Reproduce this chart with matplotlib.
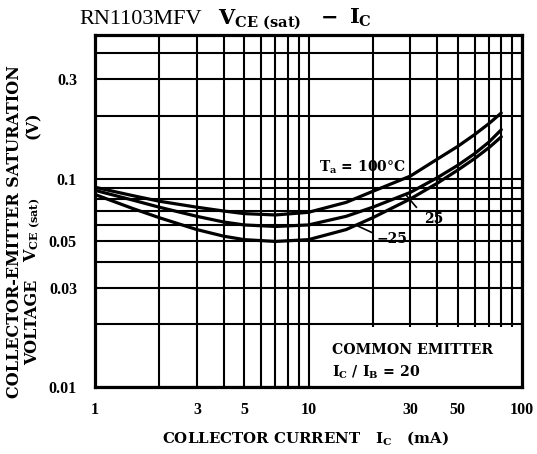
import matplotlib
matplotlib.use("Agg")
import matplotlib.pyplot as plt
from matplotlib.patches import Rectangle

plt.rcParams['mathtext.fontset'] = 'custom'
plt.rcParams['mathtext.rm'] = 'DejaVu Serif:bold'
plt.rcParams['mathtext.bf'] = 'DejaVu Serif:bold'
plt.rcParams['mathtext.it'] = 'DejaVu Serif:bold'

# Data
ic_ma = [1, 1.5, 2, 3, 4, 5, 7, 10, 15, 20, 30, 40, 50, 60, 70, 80]
vce_100 = [0.091, 0.083, 0.078, 0.073, 0.070, 0.068, 0.067, 0.069, 0.077, 0.087,
           0.103, 0.124, 0.143, 0.163, 0.184, 0.207]
vce_25 = [0.088, 0.079, 0.073, 0.066, 0.062, 0.060, 0.059, 0.060, 0.066, 0.073,
          0.086, 0.101, 0.116, 0.132, 0.150, 0.172]
vce_m25 = [0.084, 0.072, 0.065, 0.057, 0.053, 0.051, 0.050, 0.051, 0.057, 0.065,
           0.080, 0.095, 0.110, 0.125, 0.141, 0.159]

x_ticks = [1, 3, 5, 10, 30, 50, 100]
x_tick_labels = ['1', '3', '5', '10', '30', '50', '100']
y_ticks = [0.01, 0.03, 0.05, 0.1, 0.3]
y_tick_labels = ['0.01', '0.03', '0.05', '0.1', '0.3']

W, H = 537, 454
fig = plt.figure(figsize=(W / 100, H / 100), dpi=100)
L, R, T, B = 95, 522, 35, 387
ax = fig.add_axes([L / W, 1 - B / H, (R - L) / W, (B - T) / H])
ax.set_xscale('log')
ax.set_yscale('log')
ax.set_xlim(1, 100)
ax.set_ylim(0.01, 0.49)

# grid
gx = [i * 10 ** d for d in range(0, 2) for i in range(1, 10)] + [100]
gy = [i * 10 ** d for d in (-2, -1) for i in range(1, 10)]
for v in gx:
    ax.axvline(v, color='black', lw=1.5, zorder=1)
for v in gy:
    if v < 0.49:
        ax.axhline(v, color='black', lw=1.5, zorder=1)

# white box for the note
ax.add_patch(Rectangle((10.4, 0.0101), 96, 0.0195 - 0.0101, facecolor='white',
                       edgecolor='none', zorder=2))

for ys in (vce_100, vce_25, vce_m25):
    ax.plot(ic_ma, ys, color='black', lw=2.3, zorder=3, solid_capstyle='round')

ax.set_xticks(x_ticks)
ax.set_xticklabels(x_tick_labels)
ax.set_yticks(y_ticks)
ax.set_yticklabels(y_tick_labels)
ax.xaxis.set_minor_locator(matplotlib.ticker.NullLocator())
ax.yaxis.set_minor_locator(matplotlib.ticker.NullLocator())
ax.tick_params(length=0)
for lab in ax.get_xticklabels() + ax.get_yticklabels():
    lab.set_fontfamily('Liberation Serif')
    lab.set_fontweight('bold')
    lab.set_fontsize(11.5)
ax.tick_params(axis='y', pad=13)
ax.tick_params(axis='x', pad=11)
for s in ax.spines.values():
    s.set_linewidth(2.3)
    s.set_zorder(4)

fs = dict(fontfamily='DejaVu Serif', fontweight='bold', color='black')
ax.text(17.8, 0.113, r'T$_{\mathrm{a}}$ = 100°C', ha='center', va='center', fontsize=10, zorder=5, **fs)
ax.text(38.5, 0.0644, '25', ha='center', va='center', fontsize=10, zorder=5, **fs)
ax.text(24.5, 0.0511, '−25', ha='center', va='center', fontsize=10, zorder=5, **fs)
ax.plot([28.5, 32], [0.084, 0.073], color='black', lw=1.2, zorder=3)
ax.plot([16.9, 19.8], [0.0595, 0.0552], color='black', lw=1.2, zorder=3)
ax.text(12.9, 0.0150, 'COMMON EMITTER', ha='left', va='center', fontsize=10.2, zorder=5, **fs)
ax.text(12.9, 0.0118, r'I$_{\mathrm{C}}$ / I$_{\mathrm{B}}$ = 20', ha='left', va='center', fontsize=10.2, zorder=5, **fs)

# title
fig.text(79 / W, 1 - 24 / H, 'RN1103MFV', fontfamily='Liberation Serif', fontsize=16,
         ha='left', va='baseline')
fig.text(218 / W, 1 - 24 / H, r'V$_{\mathrm{CE\ (sat)}}$',
         ha='left', va='baseline', fontsize=15, **fs)
fig.text(321 / W, 1 - 24 / H, '−', ha='left', va='baseline', fontsize=15, **fs)
fig.text(349 / W, 1 - 24 / H, r'I$_{\mathrm{C}}$',
         ha='left', va='baseline', fontsize=15, **fs)

# axis labels
fig.text(306 / W, 1 - 438 / H, r'COLLECTOR CURRENT   I$_{\mathrm{C}}$   (mA)',
         ha='center', va='center', fontsize=10.8, **fs)
fig.text(15 / W, 1 - 232 / H, 'COLLECTOR-EMITTER SATURATION', rotation=90,
         ha='center', va='center', fontsize=11.5, **fs)
fig.text(33 / W, 1 - 322 / H, 'VOLTAGE', rotation=90,
         ha='center', va='center', fontsize=11.5, **fs)
fig.text(33 / W, 1 - 230 / H, r'V$_{\mathrm{CE\ (sat)}}$', rotation=90,
         ha='center', va='center', fontsize=11.5, **fs)
fig.text(33 / W, 1 - 125 / H, '(V)', rotation=90,
         ha='center', va='center', fontsize=11.5, **fs)

fig.savefig('out.png', dpi=100, facecolor='white')
